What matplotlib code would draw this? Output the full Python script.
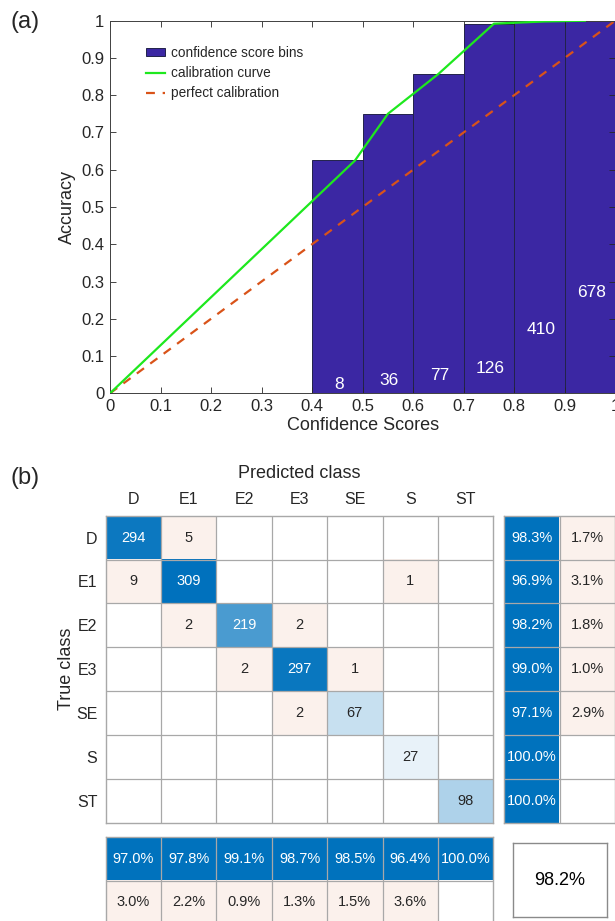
import numpy as np
import matplotlib.pyplot as plt

plt.rcParams['font.family'] = ['Liberation Sans', 'DejaVu Sans']

# ---- panel (a) data: reliability diagram
bin_left = [0.4, 0.5, 0.6, 0.7, 0.8, 0.9]
bin_acc = [0.625, 0.75, 0.857, 0.992, 0.998, 1.0]
bin_count = [8, 36, 77, 126, 410, 678]
curve_x = [0.0, 0.485, 0.55, 0.65, 0.76, 0.86, 0.94]
curve_y = [0.0, 0.625, 0.75, 0.857, 0.992, 0.998, 1.0]
ticks = [0, 0.1, 0.2, 0.3, 0.4, 0.5, 0.6, 0.7, 0.8, 0.9, 1]
tick_labels = ['0', '0.1', '0.2', '0.3', '0.4', '0.5', '0.6', '0.7', '0.8', '0.9', '1']

# ---- panel (b) data: confusion matrix
classes = ['D', 'E1', 'E2', 'E3', 'SE', 'S', 'ST']
cm = np.array([
    [294, 5, 0, 0, 0, 0, 0],
    [9, 309, 0, 0, 0, 1, 0],
    [0, 2, 219, 2, 0, 0, 0],
    [0, 0, 2, 297, 1, 0, 0],
    [0, 0, 0, 2, 67, 0, 0],
    [0, 0, 0, 0, 0, 27, 0],
    [0, 0, 0, 0, 0, 0, 98],
])

W, H = 615, 921
fig = plt.figure(figsize=(W / 100, H / 100), dpi=100)

def box(l, t, r, b):
    # pixel box -> figure fraction
    return [l / W, 1 - b / H, (r - l) / W, (b - t) / H]

dark = '#262626'
blue = np.array([0, 114, 189]) / 255
pale = np.array([251, 241, 236]) / 255
white = np.ones(3)
gridc = '#a8a8a8'

# ================= (a)
ax = fig.add_axes(box(110, 20.7, 615.2, 393.3))
bars = ax.bar(bin_left, bin_acc, width=0.1, align='edge', color='#3b27a3',
              edgecolor='#22224a', linewidth=0.7, zorder=1)
ln1, = ax.plot(curve_x, curve_y, color='#1ee81e', lw=1.6, zorder=3)
ln2, = ax.plot([0, 1], [0, 1], color='#d95319', lw=1.6, ls=(0, (4, 3.5)), zorder=2)
for xl, c in zip(bin_left, bin_count):
    ax.text(xl + 0.053, 0.02 + 0.25 * c / max(bin_count), str(c), color='white',
            fontsize=12.5, ha='center', va='center', zorder=4)
ax.set_xlim(0, 1)
ax.set_ylim(0, 1)
ax.set_xticks(ticks)
ax.set_xticklabels(tick_labels)
ax.set_yticks(ticks)
ax.set_yticklabels(tick_labels)
ax.tick_params(direction='in', top=True, right=True, labelsize=12, colors=dark,
               length=4, width=0.6, pad=4)
for s in ax.spines.values():
    s.set_color('#404040')
    s.set_linewidth(0.7)
ax.set_xlabel('Confidence Scores', fontsize=13, color=dark, labelpad=2)
ax.set_ylabel('Accuracy', fontsize=13, color=dark, labelpad=4)
leg = ax.legend([bars, ln1, ln2],
                ['confidence score bins', 'calibration curve', 'perfect calibration'],
                loc='upper left', bbox_to_anchor=(0.072, 0.932), frameon=False,
                fontsize=9.8, handlelength=1.35, handleheight=0.5, handletextpad=0.45,
                labelspacing=0.45, borderpad=0, borderaxespad=0)
for t in leg.get_texts():
    t.set_color(dark)
fig.text(25 / W, 1 - 22 / H, '(a)', fontsize=17, ha='center', va='center', color=dark)

# ================= (b)
def draw_cells(a, colors, texts, tcolors, nrow, ncol, fs):
    a.imshow(colors, aspect='auto', interpolation='nearest')
    for i in range(nrow):
        for j in range(ncol):
            if texts[i][j]:
                a.text(j, i, texts[i][j], ha='center', va='center', fontsize=fs,
                       color=tcolors[i][j])
    for k in range(1, ncol):
        a.axvline(k - 0.5, color=gridc, lw=0.9)
    for k in range(1, nrow):
        a.axhline(k - 0.5, color=gridc, lw=0.9)
    for s in a.spines.values():
        s.set_color(gridc)
        s.set_linewidth(1.0)
    a.set_xticks([])
    a.set_yticks([])

n = len(classes)
vmax = cm.max()
rgb = np.ones((n, n, 3))
txt = [[''] * n for _ in range(n)]
tcol = [[dark] * n for _ in range(n)]
for i in range(n):
    for j in range(n):
        v = cm[i, j]
        if v == 0:
            continue
        txt[i][j] = str(v)
        if i == j:
            f = v / vmax
            rgb[i, j] = white + (blue - white) * f
            if f > 0.5:
                tcol[i][j] = 'white'
        else:
            rgb[i, j] = pale

axm = fig.add_axes(box(105.7, 515.7, 493.3, 822.7))
draw_cells(axm, rgb, txt, tcol, n, n, 10.5)
axm.xaxis.tick_top()
axm.set_xticks(range(n))
axm.set_xticklabels(classes, fontsize=11.5, color=dark)
axm.set_yticks(range(n))
axm.set_yticklabels(classes, fontsize=11.5, color=dark)
axm.tick_params(length=0, pad=6)
axm.xaxis.set_label_position('top')
axm.set_xlabel('Predicted class', fontsize=13, color=dark, labelpad=10)
axm.set_ylabel('True class', fontsize=13, color=dark, labelpad=1)
fig.text(25 / W, 1 - 478 / H, '(b)', fontsize=17, ha='center', va='center', color=dark)

# row summary (recall / miss rate)
diag = np.diag(cm)
recall = 100 * diag / cm.sum(axis=1)
precision = 100 * diag / cm.sum(axis=0)

rs = np.ones((n, 2, 3))
rs_t = [['', ''] for _ in range(n)]
rs_c = [['white', dark] for _ in range(n)]
for i in range(n):
    rs[i, 0] = blue
    rs_t[i][0] = f'{recall[i]:.1f}%'
    if 100 - recall[i] > 0.05:
        rs[i, 1] = pale
        rs_t[i][1] = f'{100 - recall[i]:.1f}%'
axr = fig.add_axes(box(504.3, 515.7, 504.3 + 2 * 55.4, 822.7))
draw_cells(axr, rs, rs_t, rs_c, n, 2, 10.5)

# column summary (precision / false discovery)
cs = np.ones((2, n, 3))
cs_t = [[''] * n, [''] * n]
cs_c = [['white'] * n, [dark] * n]
for j in range(n):
    cs[0, j] = blue
    cs_t[0][j] = f'{precision[j]:.1f}%'
    if 100 - precision[j] > 0.05:
        cs[1, j] = pale
        cs_t[1][j] = f'{100 - precision[j]:.1f}%'
axb = fig.add_axes(box(105.7, 836.7, 493.3, 836.7 + 2 * 43.86))
draw_cells(axb, cs, cs_t, cs_c, 2, n, 10.5)

# overall accuracy
acc = 100 * diag.sum() / cm.sum()
axo = fig.add_axes(box(513.3, 842.7, 606.7, 917.3))
axo.set_xticks([])
axo.set_yticks([])
for s in axo.spines.values():
    s.set_color('#8a8a8a')
    s.set_linewidth(1.0)
axo.text(0.5, 0.5, f'{acc:.1f}%', ha='center', va='center', fontsize=13,
         color='black', transform=axo.transAxes)

fig.savefig('out.png', dpi=100)
